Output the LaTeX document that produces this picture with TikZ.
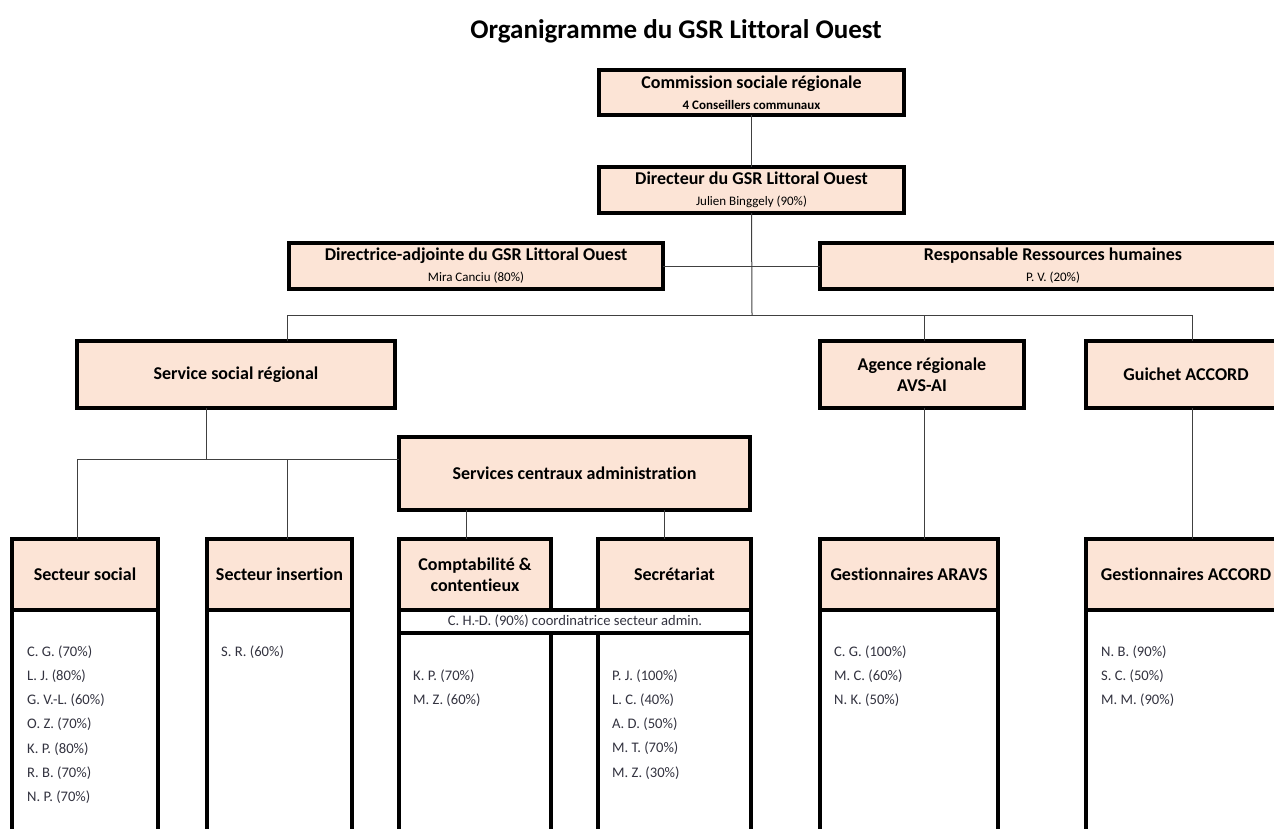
\documentclass[tikz,border=0pt]{standalone}
\usepackage{fontspec}
\setmainfont{Carlito}[Ligatures=CommonOff]

\definecolor{peach}{HTML}{FCE4D6}
\definecolor{wire}{HTML}{404040}
\definecolor{ink}{HTML}{333340}

\newcommand*{\hdr}{\fontsize{18}{21}\selectfont\bfseries} % box titles
\newcommand*{\sml}{\fontsize{13}{15}\selectfont} % box sub-lines
\newcommand*{\stf}{\fontsize{14.6}{17}\selectfont} % staff lists

\begin{document}
\begin{tikzpicture}[x=1pt, y=-1pt,
	unit/.style={draw, line width=4pt, fill=peach, inner sep=0pt, outer sep=0pt, align=center, font=\hdr},
	body/.style={draw, line width=4pt, fill=white, inner sep=0pt, outer sep=0pt, anchor=north, minimum height=260pt},
	staff/.style={anchor=base west, inner sep=0pt, font=\stf, text=ink},
	link/.style={draw=wire, line width=1pt}]
	\clip (0,0) rectangle (1274,828);

	\node[font=\fontsize{27}{30}\selectfont\bfseries] (title) at (676,31) {Organigramme du GSR Littoral Ouest};

	% direction
	\node[unit, minimum width=305pt, minimum height=45pt] (comm) at (751.5,92.5) {Commission sociale régionale\\{\sml\bfseries 4 Conseillers communaux}};
	\node[unit, minimum width=305pt, minimum height=46pt] (dir) at (751.5,190) {Directeur du GSR Littoral Ouest\\{\sml\mdseries Julien Binggely (90\%)}};
	\node[unit, minimum width=374pt, minimum height=46pt] (adj) at (476,266) {Directrice-adjointe du GSR Littoral Ouest\\{\sml\mdseries Mira Canciu (80\%)}};
	\node[unit, minimum width=466pt, minimum height=46pt] (rh) at (1053,266) {Responsable Ressources humaines\\{\sml\mdseries P. V. (20\%)}};

	% services
	\node[unit, minimum width=318pt, minimum height=67pt] (ssr) at (236,374.5) {Service social régional};
	\node[unit, minimum width=204pt, minimum height=67pt] (agence) at (922,374.5) {Agence régionale\\AVS-AI};
	\node[unit, minimum width=200pt, minimum height=67pt] (guichet) at (1186,374.5) {Guichet ACCORD};
	\node[unit, minimum width=351pt, minimum height=73pt] (sca) at (574.5,473.5) {Services centraux administration};

	% secteurs
	\node[unit, minimum width=146pt, minimum height=71pt] (soc) at (85,574.5) {Secteur social};
	\node[unit, minimum width=145pt, minimum height=71pt] (ins) at (279.5,574.5) {Secteur insertion};
	\node[unit, minimum width=152pt, minimum height=71pt] (compta) at (475,574.5) {Comptabilité \&\\contentieux};
	\node[unit, minimum width=153pt, minimum height=71pt] (secr) at (674.5,574.5) {Secrétariat};
	\node[unit, minimum width=178pt, minimum height=71pt] (aravs) at (909,574.5) {Gestionnaires ARAVS};
	\node[unit, minimum width=200pt, minimum height=71pt] (accord) at (1186,574.5) {Gestionnaires ACCORD};

	\node[draw, line width=4pt, fill=white, inner sep=0pt, outer sep=0pt, minimum width=352pt, minimum height=23pt, font=\stf, text=ink] (band) at (575,621.5) {C. H.-D. (90\%) coordinatrice secteur admin.};

	\node[body, minimum width=146pt] (socb) at (soc.south) {};
	\node[body, minimum width=145pt] (insb) at (ins.south) {};
	\node[body, minimum width=152pt] (comptab) at (compta.south |- band.south) {};
	\node[body, minimum width=153pt] (secrb) at (secr.south |- band.south) {};
	\node[body, minimum width=178pt] (aravsb) at (aravs.south) {};
	\node[body, minimum width=200pt] (accordb) at (accord.south) {};

	% staff
	\foreach \t [count=\k] in {C. G. (70\%), L. J. (80\%), G. V.-L. (60\%), O. Z. (70\%), K. P. (80\%), R. B. (70\%), N. P. (70\%)}
		\node[staff] (soc\k) at (27,632+24.2*\k) {\t};
	\node[staff] (ins1) at (221,656.2) {S. R. (60\%)};
	\foreach \t [count=\k] in {K. P. (70\%), M. Z. (60\%)}
		\node[staff] (compta\k) at (413,656+24.2*\k) {\t};
	\foreach \t [count=\k] in {P. J. (100\%), L. C. (40\%), A. D. (50\%), M. T. (70\%), M. Z. (30\%)}
		\node[staff] (secr\k) at (612,656+24.2*\k) {\t};
	\foreach \t [count=\k] in {C. G. (100\%), M. C. (60\%), N. K. (50\%)}
		\node[staff] (aravs\k) at (834,632+24.2*\k) {\t};
	\foreach \t [count=\k] in {N. B. (90\%), S. C. (50\%), M. M. (90\%)}
		\node[staff] (accord\k) at (1101,632+24.2*\k) {\t};

	% links
	\coordinate (hub) at (752,315);
	\coordinate (busL) at (287,315);
	\coordinate (busR) at (1192,315);
	\coordinate (subbus) at (206,459);
	\coordinate (socIn) at (77,459);
	\coordinate (insIn) at (287,459);
	\coordinate (comptaIn) at (466,525);
	\coordinate (secrIn) at (664,525);
	\coordinate (aravsIn) at (924,525);

	\draw[link] (comm) -- (dir);
	\draw[link] (dir.south) -- (hub);
	\draw[link] (adj.east) -- (rh.west);
	\draw[link] (busL |- ssr.north) -- (busL) -- (busR) -- (busR |- guichet.north);
	\draw[link] (aravsIn |- hub) -- (aravsIn |- agence.north);
	\draw[link] (ssr.south -| subbus) -- (subbus);
	\draw[link] (socIn |- soc.north) -- (socIn) -- (socIn -| sca.west);
	\draw[link] (insIn) -- (insIn |- ins.north);
	\draw[link] (comptaIn |- sca.south) -- (comptaIn |- compta.north);
	\draw[link] (secrIn |- sca.south) -- (secrIn |- secr.north);
	\draw[link] (aravsIn |- agence.south) -- (aravsIn |- aravs.north);
	\draw[link] (busR |- guichet.south) -- (busR |- accord.north);
\end{tikzpicture}
\end{document}
